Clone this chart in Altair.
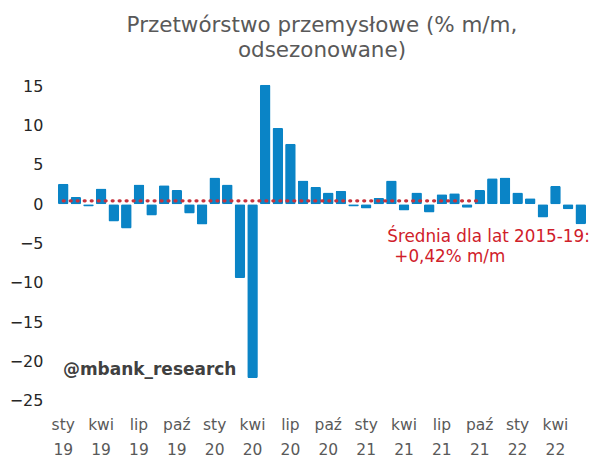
import altair as alt
import pandas as pd

months = ["sty", "lut", "mar", "kwi", "maj", "cze", "lip", "sie", "wrz", "paź", "lis", "gru"]
years = ["19", "20", "21", "22"]
values = [
    2.6, 0.9, -0.3, 2.0, -2.2, -3.1, 2.5, -1.45, 2.4, 1.8, -1.2, -2.6,
    3.4, 2.5, -9.4, -22.1, 15.2, 9.7, 7.7, 3.0, 2.2, 1.5, 1.7, -0.3,
    -0.55, 0.8, 3.0, -0.8, 1.5, -1.05, 1.25, 1.4, -0.45, 1.8, 3.3, 3.4,
    1.5, 0.75, -1.7, 2.3, -0.65, -2.55,
]
mean_value = 0.42
mean_months = 34  # dotted mean line covers Jan 2019 .. Oct 2021
y_ticks = [15, 10, 5, 0, -5, -10, -15, -20, -25]

labels = [f"{months[i % 12]} {years[i // 12]}" for i in range(len(values))]
df = pd.DataFrame({"miesiac": labels, "wartosc": values})
df_mean = pd.DataFrame({"miesiac": labels[:mean_months], "wartosc": [mean_value] * mean_months})

x_enc = alt.X(
    "miesiac:N",
    sort=None,
    title=None,
    scale=alt.Scale(paddingInner=0.16, paddingOuter=0.08),
    axis=alt.Axis(
        labelExpr="indexof(['sty','kwi','lip','paź'], split(datum.label,' ')[0]) >= 0 ? split(datum.label,' ') : ''",
        labelAngle=0,
        labelFont="DejaVu Sans",
        labelFontSize=15.5,
        labelColor="#595959",
        labelLineHeight=25,
        labelPadding=17,
        ticks=False,
        domain=False,
        labelOverlap=False,
    ),
)

y_enc = alt.Y(
    "wartosc:Q",
    title=None,
    scale=alt.Scale(domain=[-25, 15], nice=False),
    axis=alt.Axis(
        values=y_ticks,
        grid=False,
        ticks=False,
        domain=False,
        labelOverlap=False,
        labelFont="DejaVu Sans",
        labelFontSize=16,
        labelColor="#262626",
        labelPadding=14,
    ),
)

bars = alt.Chart(df).mark_bar(color="#0a84c6", cornerRadius=1.5).encode(x=x_enc, y=y_enc)

mean_line = alt.Chart(df_mean).mark_line(
    color="#c8323c", strokeDash=[1, 6], strokeWidth=3.2, strokeCap="round"
).encode(x=x_enc, y=y_enc)

note1 = alt.Chart(pd.DataFrame({"t": ["Średnia dla lat 2015-19:"]})).mark_text(
    align="left", baseline="top", font="DejaVu Sans", fontSize=16.8, color="#d0202a"
).encode(x=alt.value(331), y=alt.value(143), text="t:N")

note2 = alt.Chart(pd.DataFrame({"t": ["+0,42% m/m"]})).mark_text(
    align="left", baseline="top", font="DejaVu Sans", fontSize=16.8, color="#d0202a"
).encode(x=alt.value(338), y=alt.value(163), text="t:N")

handle = alt.Chart(pd.DataFrame({"t": ["@mbank_research"]})).mark_text(
    align="left", baseline="middle", font="DejaVu Sans", fontSize=17, fontWeight="bold", color="#404040"
).encode(x=alt.value(6), y=alt.value(284), text="t:N")

chart = alt.layer(bars, mean_line, note1, note2, handle).properties(
    width=531,
    height=315,
    autosize=alt.AutoSizeParams(type="none"),
    padding={"left": 49, "top": 78, "right": 10, "bottom": 60},
    title=alt.TitleParams(
        text=["Przetwórstwo przemysłowe (% m/m,", "odsezonowane)"],
        font="DejaVu Sans",
        fontSize=21.5,
        fontWeight="normal",
        color="#595959",
        lineHeight=25,
        anchor="middle",
        offset=17,
    ),
).configure_view(stroke=None).configure_axis(labelOverlap=False)

chart.save("out.html", embed_options={"renderer": "svg", "actions": False})
